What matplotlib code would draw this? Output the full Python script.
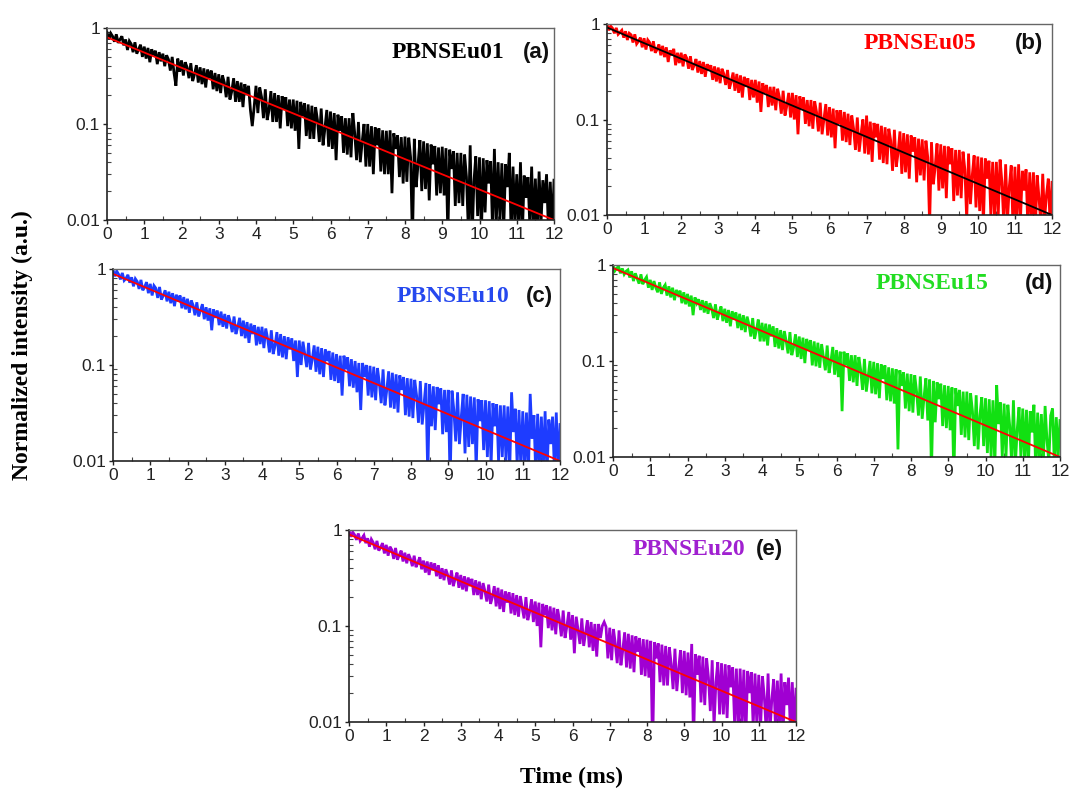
import numpy as np
import matplotlib.pyplot as plt
from matplotlib.ticker import FixedLocator, NullFormatter, MultipleLocator

plt.rcParams['font.family'] = 'Liberation Sans'
plt.rcParams['font.size'] = 12.5

# sampling grid of the decay curves (ms)
time_ms = np.linspace(0, 12, 241)

# normalized emission intensity, in % of the peak, one value per time step
pbnseu01 = [
    90, 76, 88, 82, 72, 86, 70, 76, 82, 66,
    76, 59, 73, 68, 56, 71, 54, 60, 67, 50,
    64, 48, 62, 44, 60, 52, 58, 42, 56, 45,
    54, 40, 52, 47, 36, 50, 34, 25, 48, 35,
    46, 32, 44, 39, 30, 43, 28, 33, 41, 27,
    39, 26, 38, 24, 37, 30, 36, 23, 34, 22,
    33, 21, 32, 27, 19, 31, 18, 22, 30, 17,
    28, 17, 27, 15, 26, 20, 25, 14, 9.5, 15,
    25, 13, 24, 19, 11.5, 23, 11, 14, 22, 10.5,
    21, 10.5, 20, 9, 19.5, 14, 19, 9.5, 18, 9,
    18, 8.5, 17.5, 5.5, 17, 12, 16.5, 7.5, 16, 7,
    15.5, 7, 15, 11, 6.5, 14.5, 6, 9, 14, 5.8,
    13.5, 5.5, 13, 4.2, 12.5, 8.5, 12, 5, 11.5, 4.8,
    11.5, 4.5, 13, 8, 4.2, 10.5, 4, 6.5, 10, 3.6,
    10, 3.6, 9.5, 3, 9.2, 6, 9, 3.2, 8.6, 3,
    8.5, 3, 8.6, 1.9, 8, 5.5, 7.6, 2.8, 7.3, 2.4,
    7.4, 2.5, 7.2, 4.5, 0.6, 7, 2.2, 3.8, 6.8, 2.0,
    6.6, 2.1, 6.3, 1.6, 6.1, 3.8, 5.9, 1.8, 5.7, 1.9,
    5.8, 1.8, 5.6, 0.7, 5.4, 3.4, 5.2, 1.4, 5.0, 1.5,
    5.0, 1.4, 4.8, 2.8, 0.8, 6.0, 0.6, 2.5, 4.6, 1.1,
    4.5, 0.7, 4.4, 1.2, 4.2, 2.4, 4.1, 0.8, 5.5, 0.9,
    4.0, 1.0, 3.9, 0.8, 3.8, 2.2, 5.0, 0.7, 3.6, 0.9,
    3.0, 0.8, 4.0, 0.7, 2.9, 1.7, 2.8, 0.9, 3.6, 0.7,
    2.7, 0.7, 3.2, 0.9, 2.6, 1.5, 3.0, 0.8, 2.5, 0.7,
    2.6,
]

pbnseu05 = [
    99, 86, 95, 90, 80, 91, 78, 82, 86, 72,
    84, 68, 80, 77, 64, 78, 62, 66, 72, 57,
    71, 54, 68, 64, 52, 66, 50, 54, 61, 47,
    59, 45, 57, 40, 53, 47, 55, 37, 50, 39,
    50, 36, 48, 44, 34, 46, 33, 37, 43, 31,
    41, 30, 40, 28, 38, 33, 37, 26, 36, 25,
    35, 24, 34, 30, 23, 33, 21, 25, 31, 20,
    30, 19, 29, 17, 28, 22, 27, 16, 26, 17,
    26, 15, 25, 12, 24, 19, 23, 13.5, 22, 14,
    22, 12.5, 21, 17, 11.5, 20, 11, 14, 19, 10.5,
    19, 10, 18, 7, 17.5, 13, 17, 9, 16, 8.5,
    16, 8, 15.5, 12, 7.5, 15, 7, 10, 14.5, 6.8,
    13.5, 6.5, 13, 5, 12.5, 9, 12.5, 6, 12, 5.8,
    11.5, 5.4, 11, 8, 4.8, 10.5, 4.6, 7, 10, 4.4,
    11, 4.3, 9.5, 3.6, 9.2, 6.5, 9, 3.8, 8.6, 3.5,
    8.3, 3.4, 8, 6, 2.9, 7.8, 3.2, 4.5, 7.5, 2.7,
    7.2, 2.8, 7, 2.4, 6.8, 4.6, 6.5, 2.2, 6.3, 2.6,
    6.2, 2.3, 6, 4, 0.8, 5.8, 2.1, 3.2, 5.6, 1.8,
    5.5, 1.9, 5.3, 1.5, 5.2, 3.4, 5.0, 1.4, 4.8, 1.6,
    4.8, 1.5, 4.6, 3.0, 0.9, 4.4, 1.3, 2.6, 4.2, 1.2,
    4.1, 1.1, 4.0, 0.8, 3.9, 2.4, 3.7, 1.0, 3.6, 0.9,
    3.6, 1.0, 3.8, 2.2, 0.8, 3.4, 0.9, 2.0, 3.3, 0.7,
    3.2, 0.8, 3.4, 0.9, 2.9, 1.8, 3.0, 0.7, 2.8, 0.9,
    2.8, 0.7, 2.6, 1.5, 0.8, 2.7, 0.9, 1.6, 2.4, 0.8,
    2.2,
]

pbnseu10 = [
    98, 84, 95, 88, 78, 91, 76, 80, 87, 72,
    82, 66, 79, 74, 62, 77, 60, 65, 73, 56,
    70, 53, 67, 63, 50, 65, 48, 53, 60, 46,
    58, 44, 56, 41, 54, 46, 53, 39, 51, 38,
    49, 35, 47, 42, 33, 45, 32, 37, 43, 30,
    40, 29, 39, 23, 38, 31, 37, 26, 36, 25,
    34, 24, 33, 28, 22, 32, 21, 25, 31, 20,
    29, 19, 28, 17, 27, 21, 26, 16, 25, 16.5,
    25, 15, 24, 19, 13.5, 23, 13, 16, 22, 12.5,
    21, 12, 20, 11.5, 19.5, 14.5, 19, 11, 18, 7.5,
    18, 10, 17.5, 13, 9.5, 17, 9, 11.5, 16, 8.5,
    15.5, 8, 15, 7.5, 14.5, 11, 14, 7, 13.5, 6.8,
    13, 6.5, 12.5, 4.8, 12.5, 9, 12, 6, 11.5, 5.8,
    11, 5.2, 10.5, 3.4, 10.5, 7.5, 10, 4.8, 9.8, 4.6,
    9.6, 4.3, 9.3, 6.5, 4, 9, 3.8, 5.5, 8.6, 3.6,
    8.3, 3.5, 8, 3.2, 7.8, 5.5, 7.5, 3, 7.3, 2.9,
    7.2, 2.8, 7, 4.8, 2.5, 6.8, 2.4, 4, 6.5, 0.7,
    6.3, 2.3, 6, 2.1, 5.9, 3.9, 5.7, 1.9, 5.5, 2.0,
    5.5, 0.6, 5.4, 3.4, 1.6, 5.2, 1.5, 2.9, 5.0, 1.2,
    4.9, 1.4, 4.7, 1.5, 4.6, 0.8, 4.4, 2.6, 4.3, 1.3,
    4.3, 1.1, 4.2, 0.9, 4.0, 2.3, 3.9, 1.0, 3.8, 1.1,
    3.8, 1.0, 3.7, 0.8, 5.2, 2.0, 3.5, 0.9, 3.4, 0.8,
    3.3, 0.9, 3.2, 0.7, 5.0, 1.7, 3.0, 0.7, 3.1, 0.8,
    2.9, 0.8, 3.3, 0.7, 2.7, 1.5, 2.9, 0.8, 3.2, 0.8,
    2.4,
]

pbnseu15 = [
    99, 87, 93, 96, 82, 92, 80, 86, 89, 74,
    86, 68, 82, 72, 64, 80, 63, 70, 75, 58,
    70, 55, 68, 58, 52, 66, 50, 58, 62, 48,
    60, 46, 58, 43, 55, 49, 54, 40, 52, 39,
    50, 37, 48, 30, 46, 40, 44, 34, 43, 32,
    42, 31, 40, 35, 28, 39, 27, 32, 37, 26,
    35, 25, 34, 23, 33, 27, 32, 22, 31, 21,
    30, 20, 29, 24, 18, 28, 17, 21, 27, 16,
    25, 16, 24.5, 14.5, 24, 18, 23, 14, 22, 13.5,
    21, 13, 20.5, 16, 12, 20, 11.5, 14, 19, 11,
    18, 10.5, 17.5, 9.5, 17, 13, 16.5, 9, 16, 8.8,
    15.5, 8.5, 15, 11, 8, 14.5, 7.5, 10, 14, 7.2,
    13, 6.8, 12.5, 3, 12.5, 9, 12, 6.2, 11.5, 6,
    11.5, 5.5, 11, 8, 5, 10.5, 4.8, 7, 10, 4.6,
    9.8, 4.5, 9.5, 4.1, 9.2, 6.5, 9, 3.9, 8.6, 3.8,
    8.4, 3.6, 8.2, 1.2, 8, 5.5, 7.6, 3.2, 7.4, 3.0,
    7.3, 2.9, 7.1, 4.8, 2.7, 6.9, 2.5, 4.2, 6.6, 2.4,
    6.4, 0.7, 6.2, 2.3, 6.0, 4.0, 5.8, 2.1, 5.6, 2.0,
    5.5, 1.9, 5.3, 0.6, 5.2, 3.4, 5.0, 1.7, 4.8, 1.6,
    4.8, 1.5, 4.6, 3.0, 1.3, 4.4, 1.2, 2.7, 4.2, 1.3,
    4.1, 1.1, 4.0, 1.0, 3.9, 0.8, 5.6, 2.2, 3.7, 1.0,
    3.6, 1.0, 3.5, 2.1, 0.9, 3.9, 0.8, 1.9, 3.3, 1.0,
    3.2, 0.9, 3.1, 0.8, 3.0, 1.8, 3.5, 0.7, 2.9, 0.9,
    2.8, 0.8, 3.4, 1.5, 0.9, 2.7, 3.2, 0.8, 2.6, 1.0,
    2.4,
]

pbnseu20 = [
    99, 85, 95, 89, 79, 92, 77, 82, 88, 73,
    82, 67, 80, 74, 63, 77, 61, 66, 73, 57,
    70, 54, 67, 62, 50, 65, 49, 55, 61, 47,
    58, 45, 56, 50, 42, 54, 41, 46, 52, 39,
    48, 36, 47, 34, 46, 38, 45, 33, 43, 31,
    40, 30, 39, 34, 27, 38, 26, 31, 36, 25,
    34, 24, 33, 23, 32, 26, 31, 21, 30, 21,
    29, 19, 28, 23, 18, 27, 17, 20, 26, 16,
    25, 15, 24, 14, 23, 17.5, 22.5, 13.5, 22, 13,
    21, 12.5, 20.5, 15.5, 12, 20, 11.5, 14, 19, 11,
    18, 10, 17.5, 6, 17, 13, 16.5, 9.5, 16, 9,
    15.5, 8.2, 15, 11.5, 7.8, 14.5, 7.5, 10, 14, 7.2,
    13, 5.2, 12.5, 9, 6.5, 12, 6.2, 8.5, 11.5, 6,
    11, 5.5, 10.5, 4.8, 10.5, 7.5, 10, 11, 9.8, 4.6,
    9.6, 4.4, 9.3, 6.5, 4.1, 9, 3.9, 5.6, 8.6, 3.7,
    8.3, 3.6, 8, 3.3, 7.8, 5.4, 7.5, 3.1, 7.3, 3.0,
    7.2, 2.9, 7, 0.5, 6.8, 4.6, 6.6, 2.6, 6.4, 2.4,
    6.2, 2.4, 6.0, 4.0, 2.2, 5.8, 2.1, 3.6, 5.6, 2.0,
    5.5, 1.9, 5.3, 1.8, 6.5, 0.6, 5.1, 3.1, 4.9, 1.6,
    4.8, 1.5, 4.6, 2.9, 1.3, 4.4, 0.9, 2.6, 4.2, 1.2,
    4.1, 1.2, 4.0, 1.1, 3.9, 2.3, 3.7, 1.0, 3.6, 0.7,
    3.6, 1.0, 3.5, 0.6, 3.4, 2.0, 3.3, 0.9, 3.2, 0.9,
    3.1, 0.9, 3.0, 1.8, 0.8, 3.2, 0.8, 1.7, 2.8, 0.9,
    2.7, 0.8, 3.2, 0.7, 2.6, 1.5, 2.9, 0.8, 2.6, 0.8,
    2.2,
]

# single-exponential fits (straight lines on the log axis), start/end of the window
fit_t = [0, 12]
fit_01 = [0.80, 0.01]
fit_05 = [0.92, 0.01]
fit_10 = [0.89, 0.01]
fit_15 = [0.93, 0.01]
fit_20 = [0.90, 0.01]

samples = ['PBNSEu01', 'PBNSEu05', 'PBNSEu10', 'PBNSEu15', 'PBNSEu20']
letters = ['(a)', '(b)', '(c)', '(d)', '(e)']
series = [pbnseu01, pbnseu05, pbnseu10, pbnseu15, pbnseu20]
fits = [fit_01, fit_05, fit_10, fit_15, fit_20]

W, H = 1072, 788
# panel boxes in pixels: left, right, top, bottom
boxes = [
    (107, 554, 28, 220),
    (607, 1052, 24, 215),
    (113, 560, 269, 461),
    (613, 1060, 265, 457),
    (349, 796, 530, 722),
]
data_colors = ['#000000', '#ff0000', '#1e3cff', '#12e012', '#a000d2']
fit_colors = ['#ff0000', '#000000', '#ff0000', '#ff0000', '#ff0000']
name_colors = ['#000000', '#ff0000', '#2548ee', '#22dd22', '#a020d0']
# text anchors in axes fraction: name right edge, letter right edge, vertical centre
name_x = [0.89, 0.83, 0.886, 0.839, 0.886]
letter_x = [0.99, 0.98, 0.984, 0.984, 0.971]
label_y = [0.87, 0.90, 0.857, 0.906, 0.896]

fig = plt.figure(figsize=(W / 100, H / 100), dpi=100)

for i in range(5):
    l, r, t, b = boxes[i]
    ax = fig.add_axes([l / W, (H - b) / H, (r - l) / W, (b - t) / H])
    y = np.array(series[i]) / 100.0
    # dense noisy trace: a wide stroke so the teeth merge into a band
    ax.plot(time_ms, y, color=data_colors[i], linewidth=2.0,
            solid_joinstyle='miter')
    ax.plot(fit_t, fits[i], color=fit_colors[i], linewidth=1.3)

    ax.set_yscale('log')
    ax.set_xlim(0, 12)
    ax.set_ylim(0.01, 1)

    ax.xaxis.set_major_locator(MultipleLocator(1))
    ax.xaxis.set_minor_locator(MultipleLocator(0.5))
    ax.yaxis.set_major_locator(FixedLocator([0.01, 0.1, 1]))
    ax.set_yticklabels(['0.01', '0.1', '1'])
    ax.yaxis.set_minor_formatter(NullFormatter())
    ax.tick_params(axis='both', which='major', direction='out', length=3,
                   width=1, labelsize=12.5, pad=2, colors='#222222')
    ax.tick_params(axis='both', which='minor', direction='in', length=3,
                   width=0.8, colors='#444444')

    for side in ['left', 'bottom']:
        ax.spines[side].set_color('#222222')
        ax.spines[side].set_linewidth(1.2)
    for side in ['top', 'right']:
        ax.spines[side].set_color('#666666')
        ax.spines[side].set_linewidth(1.0)

    ax.text(name_x[i], label_y[i], samples[i], transform=ax.transAxes,
            ha='right', va='center', color=name_colors[i],
            fontfamily='Liberation Serif', fontweight='bold', fontsize=17)
    ax.text(letter_x[i], label_y[i], letters[i], transform=ax.transAxes,
            ha='right', va='center', color='#111111',
            fontweight='bold', fontsize=16)

fig.text(22 / W, 1 - 345 / H, 'Normalized intensity (a.u.)', rotation=90,
         ha='center', va='center', fontfamily='Liberation Serif',
         fontweight='bold', fontsize=17)
fig.text(572 / W, 1 - 777 / H, 'Time (ms)', ha='center', va='center',
         fontfamily='Liberation Serif', fontweight='bold', fontsize=17)

fig.savefig('out.png', dpi=100, facecolor='white')
